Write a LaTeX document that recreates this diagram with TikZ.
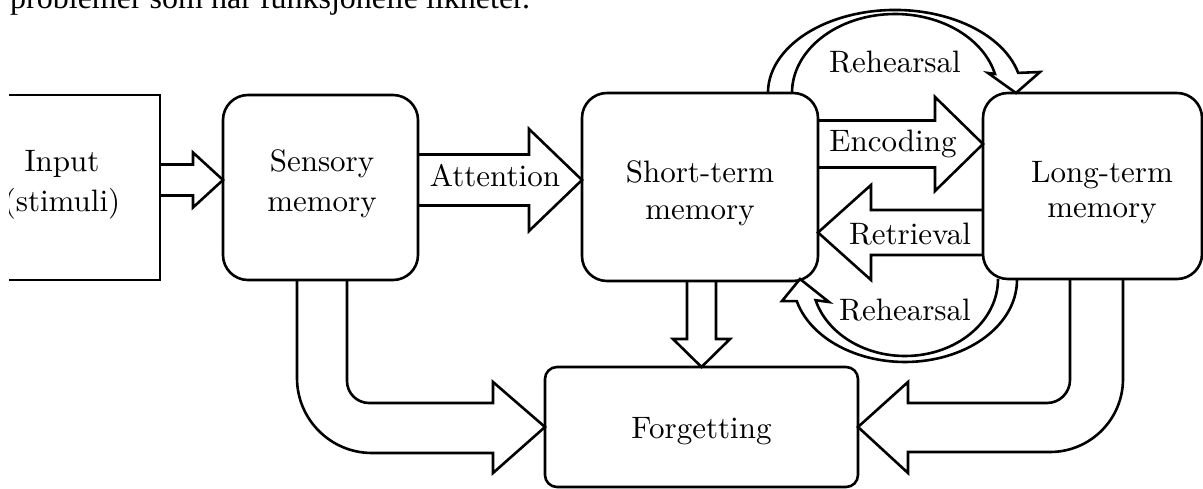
\documentclass[tikz,border=0pt]{standalone}
\usepackage{fontspec}
\newfontfamily\topfont{Liberation Serif}
\usetikzlibrary{calc}
\tikzset{
  fat/.style={line width=2.6pt, line join=miter, draw=black},
  box/.style={draw, line width=2.6pt, rounded corners=25pt, outer sep=0pt, inner sep=0pt},
  sqbox/.style={draw, line width=2.6pt, outer sep=0pt, inner sep=0pt},
  lbl/.style={scale=3.1, anchor=base, inner sep=0pt, font=\fontsize{10}{12}\selectfont},
}
% horizontal block arrow: tail point, tip point, shaft half width, head half width, signed head length
\newcommand\hfat[5]{\draw[fat] let \p1=(#1),\p2=(#2) in
  (\x1,\y2+#3) -- ({\x2-(#5)},\y2+#3) -- ({\x2-(#5)},\y2+#4) -- (\x2,\y2)
  -- ({\x2-(#5)},\y2-#4) -- ({\x2-(#5)},\y2-#3) -- (\x1,\y2-#3);}
% vertical (downward) block arrow
\newcommand\vfat[5]{\draw[fat] let \p1=(#1),\p2=(#2) in
  (\x2+#3,\y1) -- (\x2+#3,{\y2+(#5)}) -- (\x2+#4,{\y2+(#5)}) -- (\x2,\y2)
  -- (\x2-#4,{\y2+(#5)}) -- (\x2-#3,{\y2+(#5)}) -- (\x2-#3,\y1);}
\begin{document}
\begin{tikzpicture}[x=1pt,y=-1pt]
\useasboundingbox (0,0) rectangle (1203,489);
\clip (9,-60) rectangle (1260,560);

% partial line of text at the top
\node[anchor=base west, inner sep=0pt, font=\topfont\fontsize{32}{38}\selectfont] (toptext) at (10,9) {problemer som har funksjonelle likheter.};

% boxes
\node[sqbox, minimum width=200, minimum height=185] (in) at (60,187.5) {};
\node[box, minimum width=195, minimum height=185] (sen) at (320.5,187.5) {};
\node[box, minimum width=236, minimum height=188] (st) at (700,187) {};
\node[box, minimum width=219, minimum height=186] (lt) at (1092.5,186) {};
\node[box, rounded corners=12pt, minimum width=313, minimum height=120] (fg) at (701.5,427) {};

% box texts
\node[lbl] (tin1) at (62,172) {Input};
\node[lbl] (tin2) at (62,212) {(stimuli)};
\node[lbl] (tsen1) at (322,172) {Sensory};
\node[lbl] (tsen2) at (322,212) {memory};
\node[lbl] (tst1) at (700,183) {Short-term};
\node[lbl] (tst2) at (700,220) {memory};
\node[lbl] (tlt1) at (1102,183) {Long-term};
\node[lbl] (tlt2) at (1102,218) {memory};
\node[lbl] (tfg) at (701.5,438) {Forgetting};

% straight block arrows
\hfat{in.east}{$(sen.west)+(0,-7.5)$}{15.5pt}{27.5pt}{30pt}
\hfat{sen.east}{$(st.west)+(0,-7)$}{25.5pt}{51pt}{53pt}
\hfat{st.east}{$(lt.west)+(0,-42)$}{23.5pt}{47pt}{48pt}
\hfat{lt.west}{$(st.east)+(0,45.5)$}{22.5pt}{47.5pt}{-53pt}
\vfat{st.south}{fg.north}{14.5pt}{28.5pt}{28pt}

% arrow labels
\node[lbl] (lat) at (495,187) {Attention};
\node[lbl] (lenc) at (893,152) {Encoding};
\node[lbl] (lret) at (910,245) {Retrieval};
\node[lbl] (lreh1) at (895,73) {Rehearsal};
\node[lbl] (lreh2) at (905,320) {Rehearsal};

% sensory -> forgetting
\draw[fat] let \p1=(sen.south), \p2=(fg.west) in
  (\x1-23.5pt,\y1) -- (\x1-23.5pt,\y2+49pt) arc[start angle=180, end angle=270, radius=75pt]
  -- (\x2-52pt,\y2-26pt) -- (\x2-52pt,\y2-46pt) -- (\x2,\y2)
  -- (\x2-52pt,\y2+45pt) -- (\x2-52pt,\y2+24pt) -- (\x1+48.5pt,\y2+24pt)
  arc[start angle=270, end angle=180, radius=22pt] -- (\x1+26.5pt,\y1);

% long-term -> forgetting
\draw[fat] let \p1=(lt.south), \p2=(fg.east) in
  (\x1+30.5pt,\y1) -- (\x1+30.5pt,\y2+48pt) arc[start angle=0, end angle=-90, radius=73pt]
  -- (\x2+50pt,\y2-25pt) -- (\x2+50pt,\y2-46pt) -- (\x2,\y2)
  -- (\x2+50pt,\y2+45pt) -- (\x2+50pt,\y2+24pt) -- (\x1-45.5pt,\y2+24pt)
  arc[start angle=-90, end angle=0, radius=23pt] -- (\x1-22.5pt,\y1);

% rehearsal (top): short-term -> long-term
\draw[fat] ($(st.north)+(92,0)$) arc[start angle=180, end angle=346, x radius=103, y radius=79]
  -- (988,73) -- ($(lt.north)+(-76.5,0)$) -- (1040,72) -- (1018.2,72.9)
  arc[start angle=346, end angle=180, x radius=127, y radius=83];

% rehearsal (bottom): long-term -> short-term
\draw[fat] ($(lt.south)+(-94.5,0)$) arc[start angle=0, end angle=164, x radius=93, y radius=77]
  -- (829,302) -- ($(st.south east)+(-18,-2)$) -- (782,301) -- (796.8,301.2)
  arc[start angle=165, end angle=0, x radius=112, y radius=82];
\end{tikzpicture}
\end{document}
